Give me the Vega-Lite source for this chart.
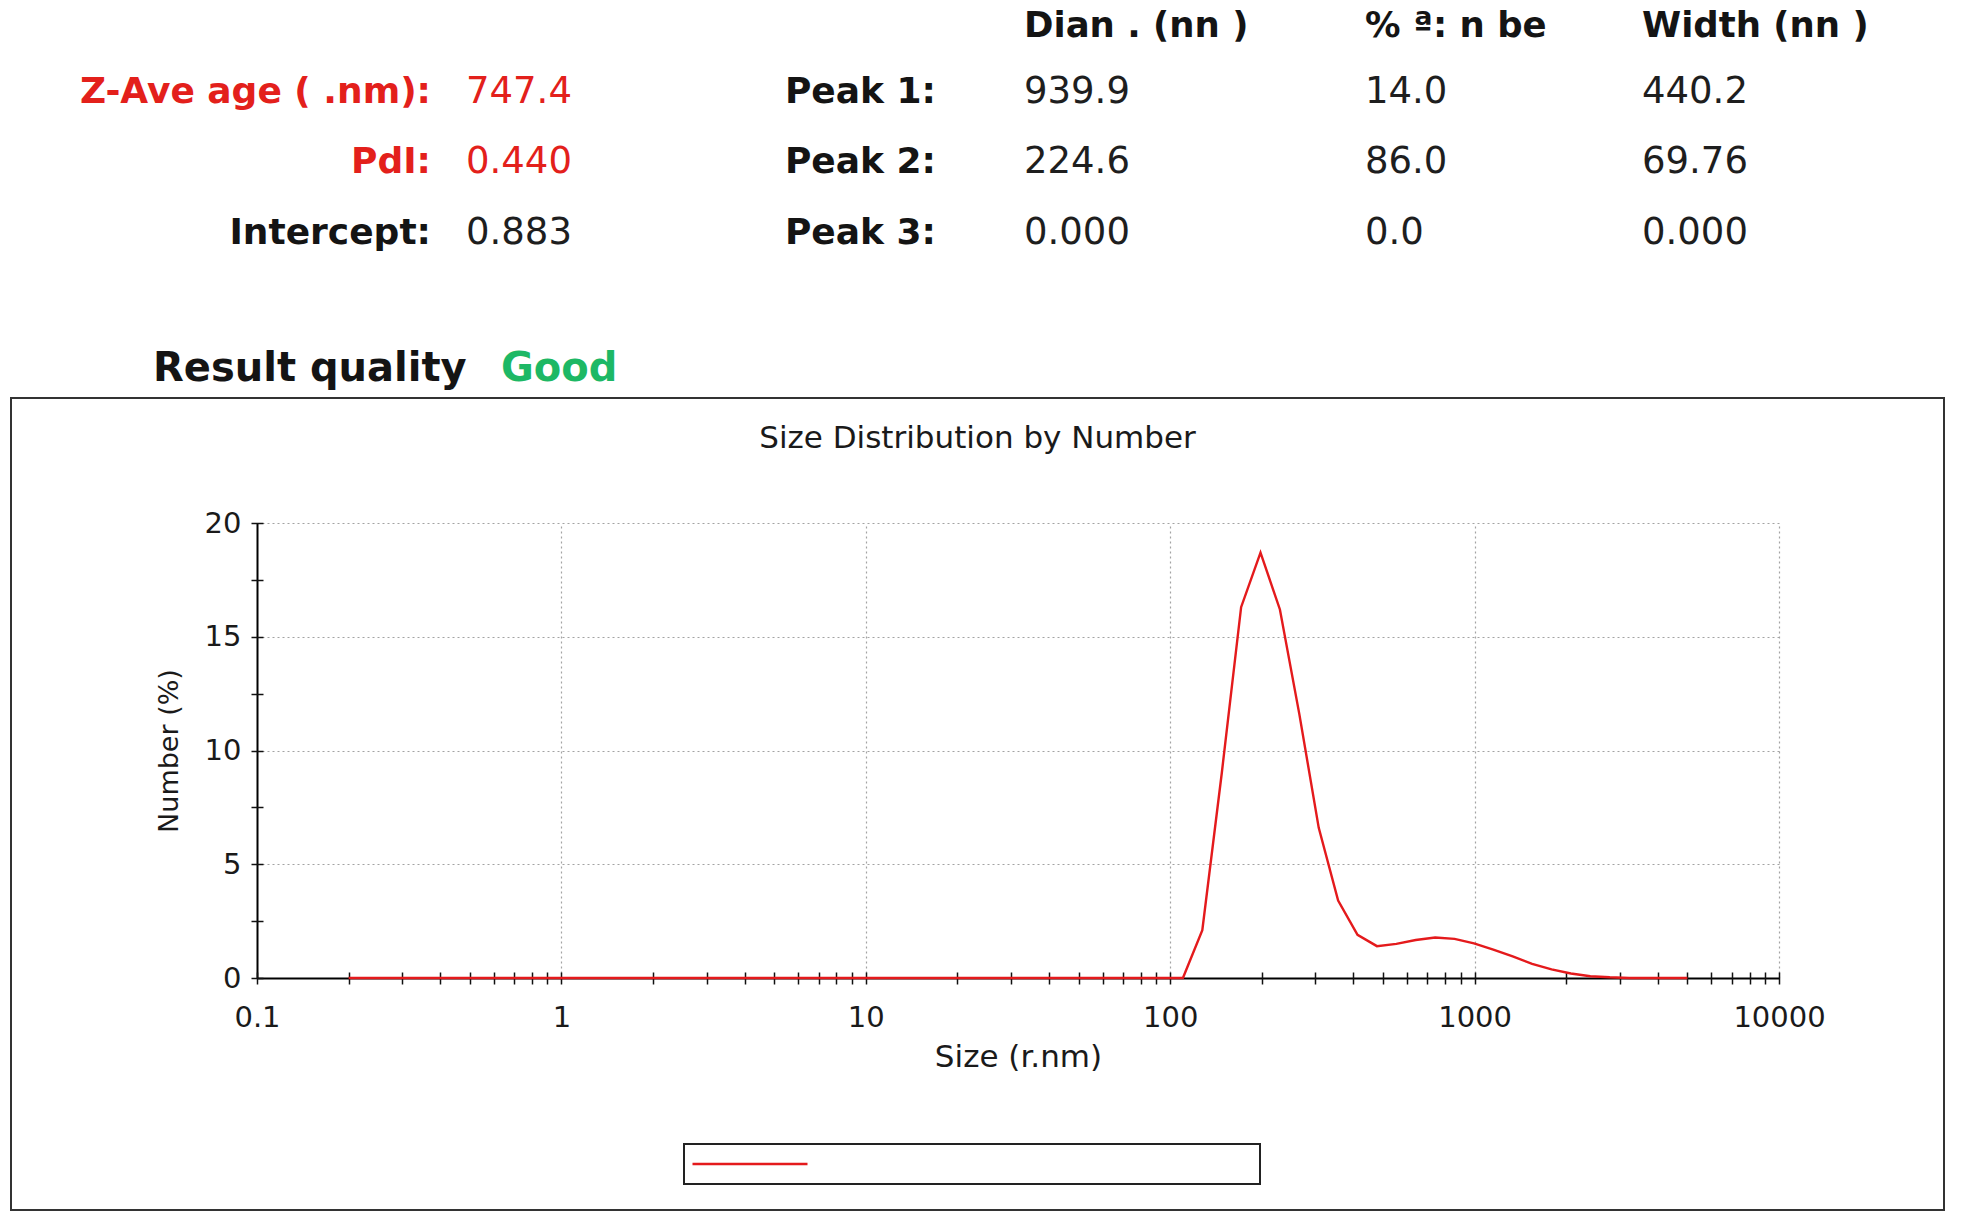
{
  "$schema": "https://vega.github.io/schema/vega-lite/v6.json",
  "padding": {"left": 10, "top": 0, "right": 18, "bottom": 13},
  "background": "#ffffff",
  "bounds": "flush",
  "spacing": 0,
  "config": {
    "view": {"stroke": null},
    "font": "DejaVu Sans"
  },
  "resolve": {"scale": {"x": "independent", "y": "independent", "color": "independent"}},
  "datasets": {
    "hdr": [
      {"r": 1, "c": 1, "t": "Z-Ave age ( .nm):", "k": "label"},
      {"r": 1, "c": 2, "t": "747.4", "k": "value"},
      {"r": 2, "c": 1, "t": "PdI:", "k": "label"},
      {"r": 2, "c": 2, "t": "0.440", "k": "value"},
      {"r": 3, "c": 1, "t": "Intercept:", "k": "label"},
      {"r": 3, "c": 2, "t": "0.883", "k": "value"},
      {"r": 0, "c": 5, "t": "Dian . (nn )", "k": "head"},
      {"r": 0, "c": 6, "t": "% ª: n be", "k": "head"},
      {"r": 0, "c": 7, "t": "Width (nn )", "k": "head"},
      {"r": 1, "c": 4, "t": "Peak 1:", "k": "label"},
      {"r": 1, "c": 5, "t": "939.9", "k": "value"},
      {"r": 1, "c": 6, "t": "14.0", "k": "value"},
      {"r": 1, "c": 7, "t": "440.2", "k": "value"},
      {"r": 2, "c": 4, "t": "Peak 2:", "k": "label"},
      {"r": 2, "c": 5, "t": "224.6", "k": "value"},
      {"r": 2, "c": 6, "t": "86.0", "k": "value"},
      {"r": 2, "c": 7, "t": "69.76", "k": "value"},
      {"r": 3, "c": 4, "t": "Peak 3:", "k": "label"},
      {"r": 3, "c": 5, "t": "0.000", "k": "value"},
      {"r": 3, "c": 6, "t": "0.0", "k": "value"},
      {"r": 3, "c": 7, "t": "0.000", "k": "value"},
      {"r": 4, "c": 0, "t": "Result quality", "k": "result"},
      {"r": 4, "c": 3, "t": "Good", "k": "result"}
    ],
    "dist": [
      {"size": 0.2, "number": 0}, {"size": 0.2316, "number": 0}, {"size": 0.2682, "number": 0},
      {"size": 0.3106, "number": 0}, {"size": 0.3598, "number": 0}, {"size": 0.4166, "number": 0},
      {"size": 0.4825, "number": 0}, {"size": 0.5588, "number": 0}, {"size": 0.6471, "number": 0},
      {"size": 0.7494, "number": 0}, {"size": 0.8679, "number": 0}, {"size": 1.005, "number": 0},
      {"size": 1.164, "number": 0}, {"size": 1.348, "number": 0}, {"size": 1.561, "number": 0},
      {"size": 1.808, "number": 0}, {"size": 2.094, "number": 0}, {"size": 2.425, "number": 0},
      {"size": 2.808, "number": 0}, {"size": 3.252, "number": 0}, {"size": 3.766, "number": 0},
      {"size": 4.361, "number": 0}, {"size": 5.051, "number": 0}, {"size": 5.849, "number": 0},
      {"size": 6.774, "number": 0}, {"size": 7.845, "number": 0}, {"size": 9.085, "number": 0},
      {"size": 10.52, "number": 0}, {"size": 12.18, "number": 0}, {"size": 14.11, "number": 0},
      {"size": 16.34, "number": 0}, {"size": 18.93, "number": 0}, {"size": 21.92, "number": 0},
      {"size": 25.38, "number": 0}, {"size": 29.39, "number": 0}, {"size": 34.04, "number": 0},
      {"size": 39.42, "number": 0}, {"size": 45.66, "number": 0}, {"size": 52.87, "number": 0},
      {"size": 61.23, "number": 0}, {"size": 70.91, "number": 0}, {"size": 82.12, "number": 0},
      {"size": 95.1, "number": 0}, {"size": 110.1, "number": 0}, {"size": 127.5, "number": 2.1},
      {"size": 147.7, "number": 9.0}, {"size": 171.0, "number": 16.3}, {"size": 198.0, "number": 18.7},
      {"size": 229.3, "number": 16.2}, {"size": 265.6, "number": 11.6}, {"size": 307.6, "number": 6.6},
      {"size": 356.2, "number": 3.4}, {"size": 412.5, "number": 1.9}, {"size": 477.7, "number": 1.4},
      {"size": 553.2, "number": 1.5}, {"size": 640.7, "number": 1.67}, {"size": 742.0, "number": 1.78},
      {"size": 859.3, "number": 1.72}, {"size": 995.2, "number": 1.52}, {"size": 1152, "number": 1.25},
      {"size": 1334, "number": 0.95}, {"size": 1545, "number": 0.62}, {"size": 1790, "number": 0.38},
      {"size": 2072, "number": 0.2}, {"size": 2400, "number": 0.08}, {"size": 2780, "number": 0.03},
      {"size": 3219, "number": 0}, {"size": 3728, "number": 0}, {"size": 4317, "number": 0},
      {"size": 5000, "number": 0}
    ]
  },
  "vconcat": [
    {
      "width": 1933,
      "height": 398,
      "view": {"stroke": null},
      "data": {"name": "hdr"},
      "encoding": {
        "x": {"field": "c", "type": "quantitative", "axis": null,
              "scale": {"domain": [0, 1, 2, 3, 4, 5, 6, 7], "range": [142, 420, 455, 490, 925, 1013, 1354, 1631], "nice": false, "zero": false}},
        "y": {"field": "r", "type": "quantitative", "axis": null,
              "scale": {"domain": [0, 1, 2, 3, 4], "range": [37, 103, 173, 244, 381], "nice": false, "zero": false}},
        "text": {"field": "t"}
      },
      "layer": [
        {
          "transform": [{"filter": "datum.k === 'label'"}],
          "mark": {"type": "text", "align": "right", "baseline": "alphabetic", "fontWeight": "bold", "fontSize": 36},
          "encoding": {"color": {"condition": {"test": "datum.c <= 2 && datum.r <= 2", "value": "#e3201b"}, "value": "#141414"}}
        },
        {
          "transform": [{"filter": "datum.k === 'value'"}],
          "mark": {"type": "text", "align": "left", "baseline": "alphabetic", "fontWeight": "normal", "fontSize": 37},
          "encoding": {"color": {"condition": {"test": "datum.c <= 2 && datum.r <= 2", "value": "#e3201b"}, "value": "#1e1e1e"}}
        },
        {
          "transform": [{"filter": "datum.k === 'head'"}],
          "mark": {"type": "text", "align": "left", "baseline": "alphabetic", "fontWeight": "bold", "fontSize": 35.5, "color": "#141414"}
        },
        {
          "transform": [{"filter": "datum.k === 'result'"}],
          "mark": {"type": "text", "align": "left", "baseline": "alphabetic", "fontWeight": "bold", "fontSize": 40},
          "encoding": {"color": {"condition": {"test": "datum.t === 'Good'", "value": "#1db865"}, "value": "#141414"}}
        }
      ]
    },
    {
      "width": 1933,
      "height": 812,
      "view": {"stroke": "#333333", "strokeWidth": 2},
      "title": {"text": "Size Distribution by Number", "offset": -81, "baseline": "alphabetic", "anchor": "middle", "frame": "group", "fontSize": 31, "fontWeight": "normal", "color": "#1a1a1a"},
      "data": {"name": "dist"},
      "resolve": {"axis": {"x": "independent", "y": "independent"}},
      "layer": [
        {
          "mark": {"type": "line", "strokeWidth": 2.4, "interpolate": "linear"},
          "encoding": {
            "x": {
              "field": "size", "type": "quantitative",
              "scale": {"type": "log", "domain": [0.1, 10000], "range": [246, 1768], "nice": false},
              "axis": {
                "orient": "bottom",
                "values": [0.1, 0.2, 0.3, 0.4, 0.5, 0.6, 0.7, 0.8, 0.9, 1, 2, 3, 4, 5, 6, 7, 8, 9, 10, 20, 30, 40, 50, 60, 70, 80, 90, 100, 200, 300, 400, 500, 600, 700, 800, 900, 1000, 2000, 3000, 4000, 5000, 6000, 7000, 8000, 9000, 10000],
                "offset": -238,
                "domain": false,
                "tickSize": 12,
                "tickColor": "#111111",
                "tickWidth": 1.5,
                "grid": false,
                "labelExpr": "indexof([0.1, 1, 10, 100, 1000, 10000], datum.value) >= 0 ? format(datum.value, '~g') : ''",
                "labelBaseline": "alphabetic",
                "labelPadding": 42,
                "labelFontSize": 29,
                "labelColor": "#1a1a1a",
                "labelOverlap": false,
                "labelFlush": false,
                "labelBound": false,
                "title": "Size (r.nm)",
                "titleY": 94,
                "titleBaseline": "alphabetic",
                "titleFontSize": 31,
                "titleFontWeight": "normal",
                "titleColor": "#1a1a1a"
              }
            },
            "y": {
              "field": "number", "type": "quantitative",
              "scale": {"domain": [0, 20], "range": [580, 125], "nice": false, "zero": false},
              "axis": {
                "orient": "left",
                "values": [0, 2.5, 5, 7.5, 10, 12.5, 15, 17.5, 20],
                "offset": -252,
                "domain": false,
                "tickSize": 12,
                "tickColor": "#111111",
                "tickWidth": 1.5,
                "grid": true,
                "gridColor": {"condition": {"test": "datum.value === 0", "value": "#000000"}, "value": "#a3a3a3"},
                "gridDash": {"condition": {"test": "datum.value === 0", "value": []}, "value": [2, 3]},
                "gridWidth": {"condition": {"test": "datum.value === 0", "value": 2}, "value": 1.2},
                "gridOpacity": {"condition": {"test": "datum.value % 5 !== 0", "value": 0}, "value": 1},
                "labelExpr": "datum.value % 5 === 0 ? datum.label : ''",
                "labelPadding": 10,
                "labelFontSize": 29,
                "labelColor": "#1a1a1a",
                "labelOverlap": false,
                "labelFlush": false,
                "labelBound": false,
                "title": "Number (%)",
                "titleX": -86,
                "titleBaseline": "alphabetic",
                "titleFontSize": 27,
                "titleFontWeight": "normal",
                "titleColor": "#1a1a1a"
              }
            },
            "color": {
              "datum": "Record 1",
              "type": "nominal",
              "scale": {"range": ["#e41a1c"]},
              "legend": {
                "orient": "none",
                "legendX": 673,
                "legendY": 746,
                "title": null,
                "symbolType": "M-2.3,0H20.7M108.5,0",
                "symbolSize": 100,
                "symbolStrokeWidth": 2.5,
                "labelExpr": "''",
                "labelFontSize": 24,
                "labelLimit": 3000,
                "labelOffset": 4,
                "padding": 8,
                "strokeColor": "#222222",
                "fillColor": "#ffffff",
                "encode": {"legend": {"update": {"strokeWidth": {"value": 2}}}}
              }
            }
          }
        },
        {
          "transform": [{"filter": "false"}],
          "mark": {"type": "point"},
          "encoding": {
            "x": {
              "field": "size", "type": "quantitative",
              "axis": {
                "orient": "top",
                "values": [0.1, 1, 10, 100, 1000, 10000],
                "domain": false,
                "ticks": false,
                "labels": false,
                "title": null,
                "grid": true,
                "gridColor": {"condition": {"test": "datum.value === 0.1", "value": "#000000"}, "value": "#a3a3a3"},
                "gridDash": {"condition": {"test": "datum.value === 0.1", "value": []}, "value": [2, 3]},
                "gridWidth": {"condition": {"test": "datum.value === 0.1", "value": 2}, "value": 1.2}
              }
            },
            "y": {
              "field": "number", "type": "quantitative",
              "axis": {
                "orient": "right",
                "domain": false,
                "ticks": false,
                "labels": false,
                "grid": false,
                "title": null
              }
            }
          }
        }
      ]
    }
  ]
}
